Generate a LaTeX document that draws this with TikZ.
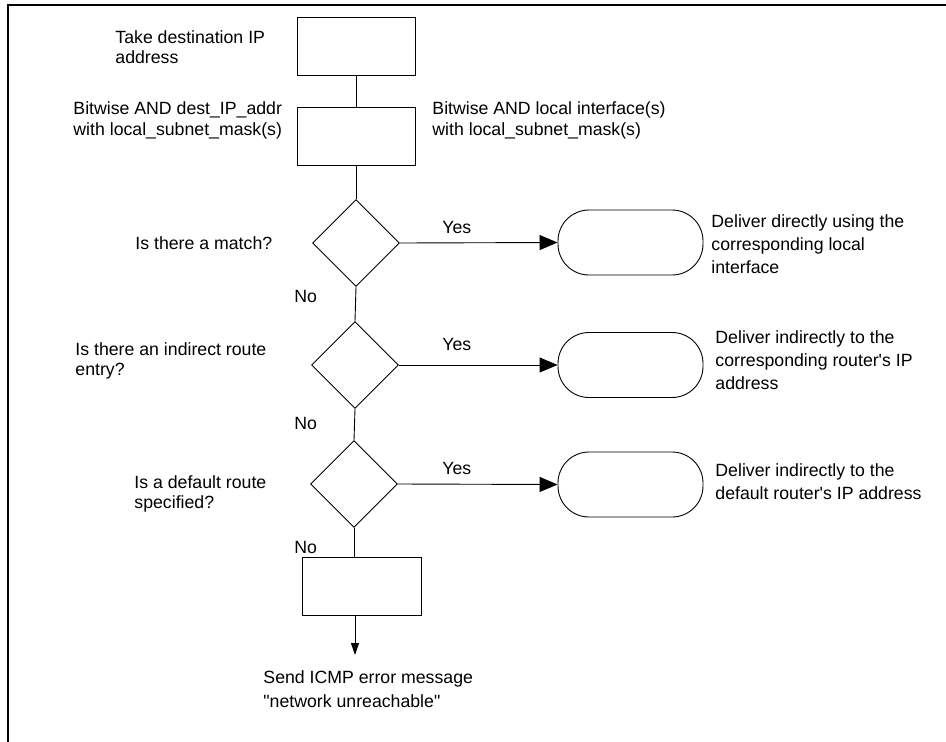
\documentclass[tikz,border=0pt]{standalone}
\usepackage{fontspec}
\setmainfont{Liberation Sans}
\usetikzlibrary{shapes.geometric,arrows.meta}
\begin{document}
\begin{tikzpicture}[x=1pt,y=-1pt,
  every path/.style={line width=0.9pt},
  box/.style={draw, line width=0.9pt, minimum width=118pt, minimum height=58pt, inner sep=0pt},
  dec/.style={draw, diamond, aspect=1, minimum width=87pt, minimum height=87pt, inner sep=0pt, line width=0.9pt},
  term/.style={draw, rounded corners=31pt, minimum width=145pt, minimum height=65pt, inner sep=0pt, line width=0.9pt},
  lbl/.style={anchor=base west, align=left, inner sep=0pt, font=\fontsize{17.7}{20.5}\selectfont},
  lblr/.style={anchor=base west, align=left, inner sep=0pt, font=\fontsize{17.7}{23}\selectfont},
  bigarr/.style={-{Triangle[length=18pt,width=15pt]}},
  smallarr/.style={-{Triangle[length=12pt,width=8pt]}}]
\useasboundingbox (0,0) rectangle (946,742);
% frame
\draw[line width=1.6pt] (8,742) -- (8,5) -- (946,5);
% boxes
\node[box] (b1) at (356,46) {};
\node[box] (b2) at (356,136) {};
\node[dec] (d1) at (356,243) {};
\node[dec] (d2) at (355,365) {};
\node[dec] (d3) at (354,484) {};
\node[box, minimum width=119pt] (b4) at (361.5,586) {};
\node[term] (r1) at (630.5,242.5) {};
\node[term] (r2) at (630.5,365) {};
\node[term] (r3) at (630.5,484.5) {};
\coordinate (end) at (355,655);
% connectors
\draw (b1.south) -- (b2.north);
\draw (b2.south) -- (d1.north);
\draw (d1.south) -- (d2.north);
\draw (d2.south) -- (d3.north);
\draw (d3.south) -- (d3.south |- b4.north);
\draw[smallarr] (b4.south -| end) -- (end);
\draw[bigarr] (d1.east) -- (r1.west);
\draw[bigarr] (d2.east) -- (r2.west);
\draw[bigarr] (d3.east) -- (r3.west);
% labels (base anchor = last line baseline)
\node[lbl] (t1) at (115,63.5) {Take destination IP\\address};
\node[lbl] (t2) at (73,135) {Bitwise AND dest\_IP\_addr\\with local\_subnet\_mask(s)};
\node[lbl] (t3) at (432,135) {Bitwise AND local interface(s)\\with local\_subnet\_mask(s)};
\node[lbl] (q1) at (135,249) {Is there a match?};
\node[lbl] (q2) at (75,375.5) {Is there an indirect route\\entry?};
\node[lbl] (q3) at (134,508.5) {Is a default route\\specified?};
\node[lbl] (y1) at (442,233) {Yes};
\node[lbl] (y2) at (442,350) {Yes};
\node[lbl] (y3) at (442,474) {Yes};
\node[lbl] (n1) at (294,302) {No};
\node[lbl] (n2) at (294,429) {No};
\node[lbl] (n3) at (294,553) {No};
\node[lblr] (a1) at (711,273) {Deliver directly using the\\corresponding local\\interface};
\node[lblr] (a2) at (715,389) {Deliver indirectly to the\\corresponding router\textquotesingle s IP\\address};
\node[lblr] (a3) at (715,499) {Deliver indirectly to the\\default router\textquotesingle s IP address};
\node[anchor=base west, align=left, inner sep=0pt, font=\fontsize{17.7}{24}\selectfont] (s) at (263,707) {Send ICMP error message\\\textquotedbl network unreachable\textquotedbl};
\end{tikzpicture}
\end{document}
